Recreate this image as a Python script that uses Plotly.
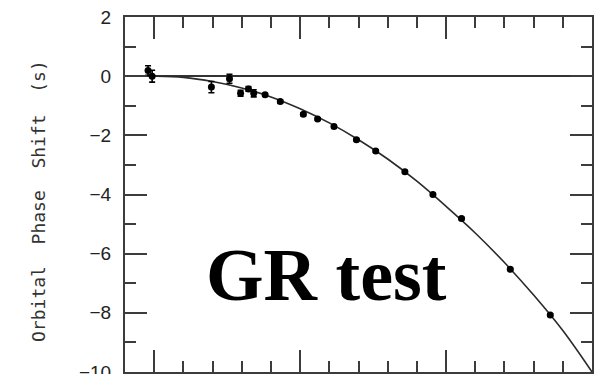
import plotly.graph_objects as go

# Observed data (year, orbital phase shift in s, error)
obs_year = [1974.79, 1974.93, 1976.96, 1977.58, 1977.96, 1978.23, 1978.41, 1978.80,
            1979.32, 1980.11, 1980.60, 1981.16, 1981.93, 1982.59, 1983.59, 1984.55,
            1985.53, 1987.20, 1988.57]
obs_shift = [0.19, 0.00, -0.37, -0.09, -0.58, -0.43, -0.58, -0.63,
             -0.86, -1.29, -1.45, -1.70, -2.15, -2.53, -3.23, -4.00,
             -4.81, -6.53, -8.07]
obs_err = [0.16, 0.20, 0.19, 0.15, 0.10, 0.08, 0.12, 0.05,
           0.05, 0.05, 0.04, 0.04, 0.04, 0.04, 0.04, 0.04,
           0.04, 0.04, 0.04]

# GR prediction curve
gr_year = [1974.75, 1975, 1976, 1977, 1978, 1979, 1980, 1981, 1982, 1983,
           1984, 1985, 1986, 1987, 1988, 1989, 1990]
gr_shift = [0.0, 0.0, -0.04, -0.18, -0.40, -0.70, -1.10, -1.58, -2.15, -2.80,
            -3.55, -4.40, -5.30, -6.30, -7.40, -8.60, -10.0]

y_ticks = [2, 0, -2, -4, -6, -8, -10]

fig = go.Figure()
fig.add_trace(go.Scatter(x=gr_year, y=gr_shift, mode="lines",
                         line=dict(color="#2a2a2a", width=1.6, shape="spline"),
                         hoverinfo="skip", showlegend=False))
fig.add_trace(go.Scatter(x=obs_year, y=obs_shift, mode="markers",
                         marker=dict(color="black", size=7),
                         error_y=dict(type="data", array=obs_err, visible=True,
                                      color="black", thickness=1.6, width=3),
                         showlegend=False))

tcol = "#3c3c3c"
axis_common = dict(showgrid=False, showline=True, linecolor=tcol, linewidth=2,
                   mirror="ticks", ticks="inside", tickcolor=tcol, tickwidth=2,
                   automargin=False)

fig.update_xaxes(range=[1974, 1990], dtick=5, tick0=1975, ticklen=22,
                 showticklabels=False, zeroline=False,
                 minor=dict(dtick=1, ticklen=11, ticks="inside", tickcolor=tcol,
                            tickwidth=2, showgrid=False),
                 **axis_common)
fig.update_yaxes(range=[-10, 2], tickvals=y_ticks, ticklen=22,
                 zeroline=True, zerolinecolor="#333", zerolinewidth=1.5,
                 tickfont=dict(family="Liberation Sans, Arial", size=19, color="#222"),
                 ticklabelstandoff=8, ticklabeloverflow="allow",
                 minor=dict(dtick=1, ticklen=11, ticks="inside", tickcolor=tcol,
                            tickwidth=2, showgrid=False),
                 **axis_common)

fig.add_annotation(text="Orbital&nbsp;&nbsp;Phase&nbsp;&nbsp;Shift&nbsp;&nbsp;(s)",
                   xref="paper", yref="paper", x=-0.184, y=0.482,
                   xanchor="center", yanchor="middle",
                   textangle=-90, showarrow=False,
                   font=dict(family="DejaVu Sans Mono", size=18, color="#333"))
fig.add_annotation(text="<b>GR test</b>", xref="paper", yref="paper",
                   x=0.4325, y=0.272, xanchor="center", yanchor="middle",
                   showarrow=False,
                   font=dict(family="Liberation Serif, Times New Roman", size=74, color="black"))

fig.update_layout(width=608, height=374,
                  margin=dict(l=125, r=16, t=17, b=2, autoexpand=False),
                  paper_bgcolor="white", plot_bgcolor="white")

fig.write_html("out.html")
